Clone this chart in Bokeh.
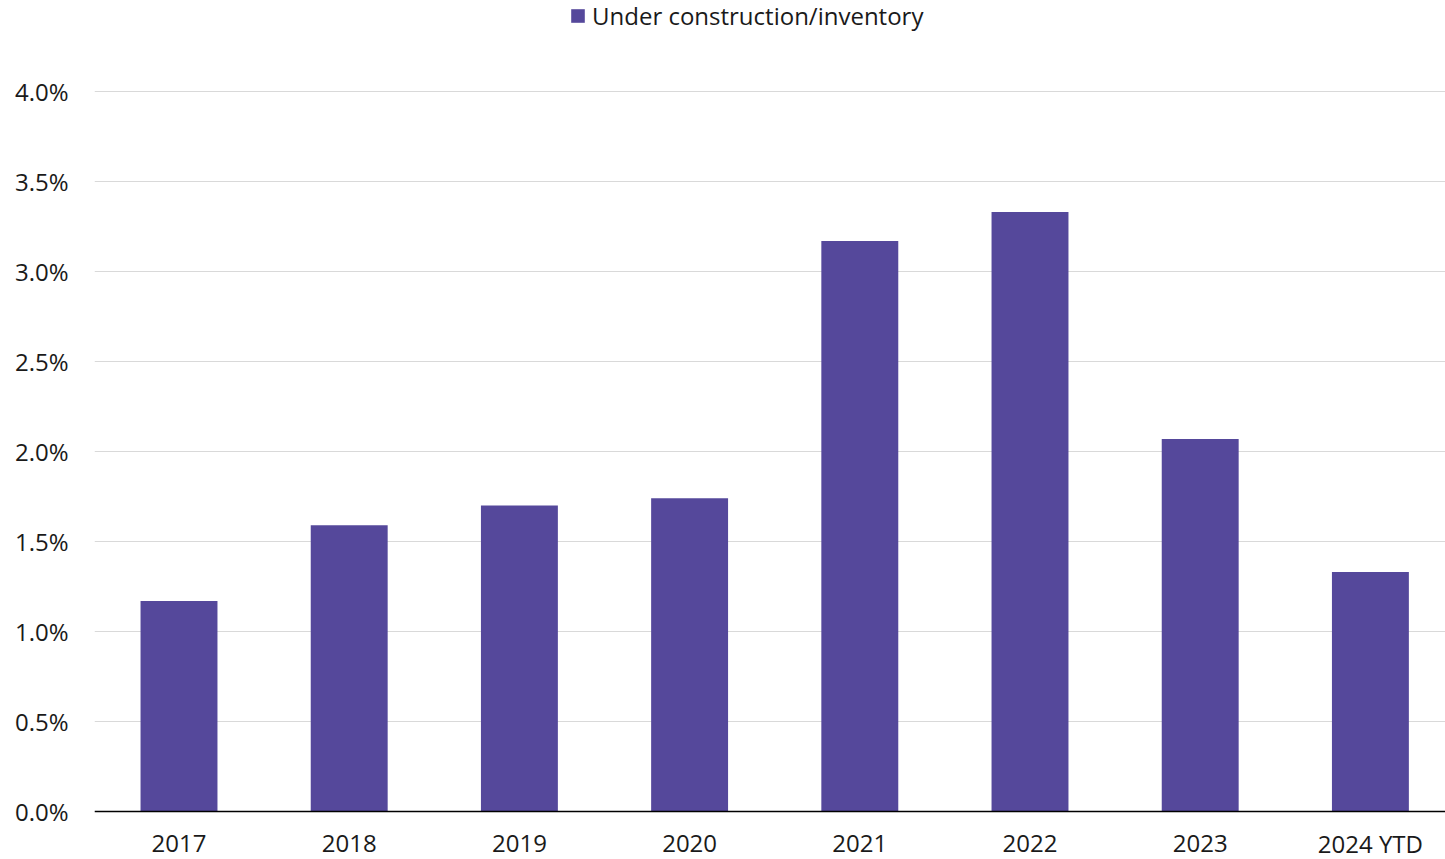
from bokeh.plotting import figure
from bokeh.models import FixedTicker, Range1d, Legend, LegendItem, ColumnDataSource, CustomJSTickFormatter, Span
from bokeh.core.properties import value
from bokeh.embed import file_html
from bokeh.resources import INLINE

categories = ["2017", "2018", "2019", "2020", "2021", "2022", "2023", "2024 YTD"]
values = [1.17, 1.59, 1.70, 1.74, 3.17, 3.33, 2.07, 1.33]
series_name = "Under construction/inventory"
y_ticks = [0.0, 0.5, 1.0, 1.5, 2.0, 2.5, 3.0, 3.5, 4.0]

FONT = "Open Sans"
BAR = "#55489b"
TXT = "#1a1a1a"

pos = [i + 0.5 for i in range(len(categories))]
src = ColumnDataSource(dict(x=pos, cat=categories, val=values, zero=[0.0] * len(categories)))

p = figure(width=1445, height=859, output_backend="svg",
           toolbar_location=None, min_border_left=94, min_border_right=0,
           min_border_top=0, min_border_bottom=0)
# ~170 px per category; the last category slot runs slightly past the right edge
p.x_range = Range1d(0.0035, 0.0035 + 1351 / 170.2)
# 180 px per 1 %, zero line at 811 px, frame runs to 859 px
p.y_range = Range1d(-48 / 180, 811 / 180)
r = p.vbar(x="x", top="val", width=0.452, source=src, fill_color=BAR, line_color=None)

p.outline_line_color = None
p.background_fill_color = "white"
p.border_fill_color = "white"
p.xgrid.grid_line_color = None
p.ygrid.grid_line_color = "#d9d9d9"
p.ygrid.grid_line_width = 1

p.yaxis.ticker = FixedTicker(ticks=y_ticks)
p.ygrid.ticker = FixedTicker(ticks=y_ticks)
p.yaxis.formatter = CustomJSTickFormatter(code="return tick.toFixed(1) + '%';")
p.yaxis.axis_line_color = None
p.yaxis.major_tick_line_color = None
p.yaxis.minor_tick_line_color = None
p.yaxis.major_label_text_font = FONT
p.yaxis.major_label_text_font_size = "24px"
p.yaxis.major_label_text_color = TXT
p.yaxis.major_label_standoff = 20

p.xaxis.visible = False

# baseline (x axis line) at zero
p.add_layout(Span(location=0, dimension="width", line_color="#000000", line_width=1.3))

# category labels below the baseline
p.text(x="x", y="zero", text="cat", source=src, y_offset=32,
       text_align="center", text_baseline="middle",
       text_font=value(FONT), text_font_size="24px", text_color=TXT)

legend = Legend(items=[LegendItem(label=series_name, renderers=[r])],
                location=(475, 827), orientation="horizontal",
                border_line_color=None, background_fill_alpha=0,
                padding=0, margin=0, glyph_width=17, glyph_height=17,
                label_standoff=6, label_text_font=FONT,
                label_text_font_size="24px", label_text_color=TXT)
p.add_layout(legend)

open("out.html", "w").write(file_html(p, INLINE))
